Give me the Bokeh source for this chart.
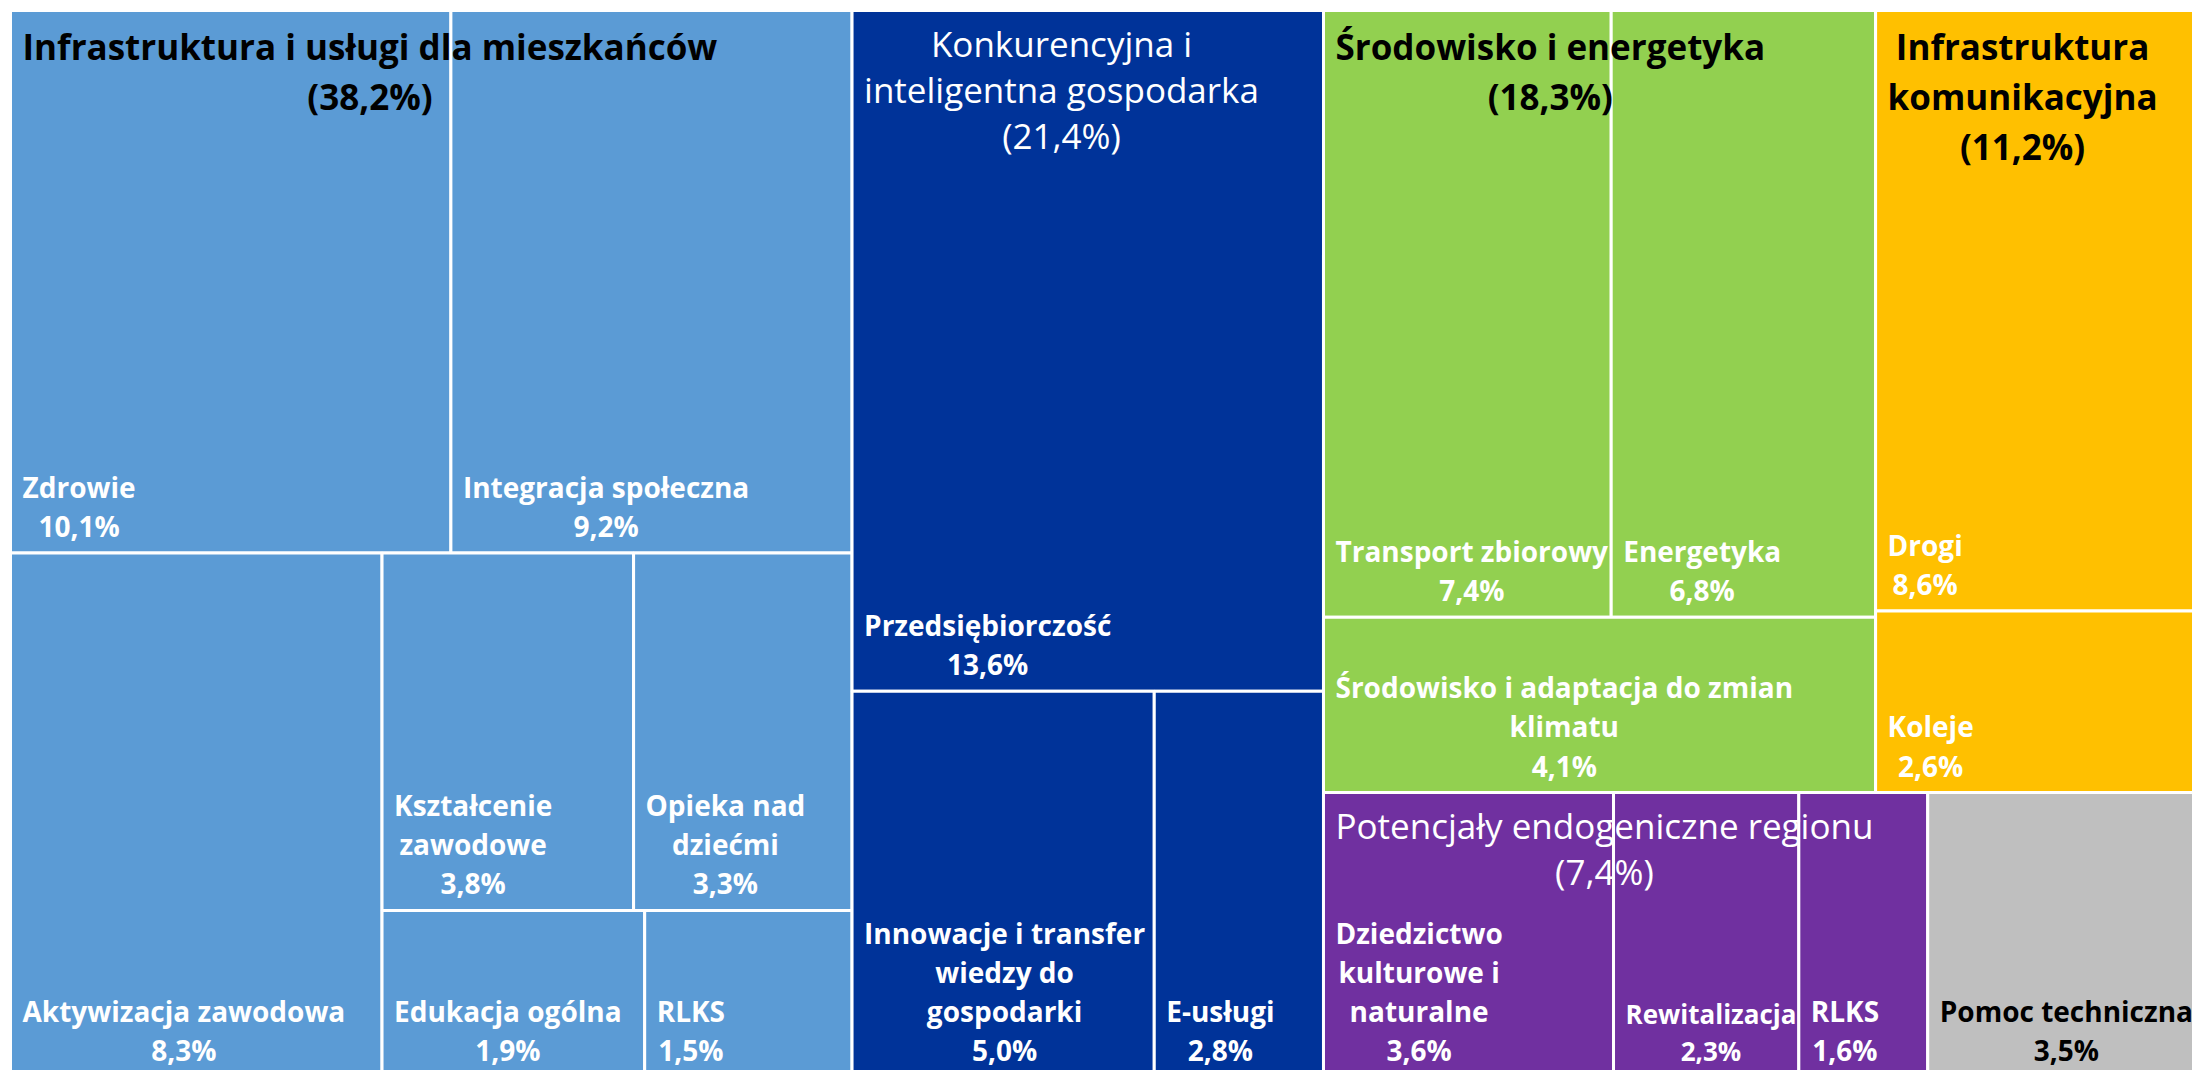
import math
from bokeh.plotting import figure
from bokeh.models import ColumnDataSource, Range1d
from bokeh.core.properties import value
from bokeh.embed import file_html
from bokeh.resources import INLINE

# ---------------- data ----------------
groups = [
    "Infrastruktura i usługi dla mieszkańców",
    "Konkurencyjna i inteligentna gospodarka",
    "Środowisko i energetyka",
    "Infrastruktura komunikacyjna",
    "Potencjały endogeniczne regionu",
    "Pomoc techniczna",
]
group_values = [38.2, 21.4, 18.3, 11.2, 7.4, 3.5]

leaf_names = [
    ["Zdrowie", "Integracja społeczna", "Aktywizacja zawodowa", "Kształcenie zawodowe",
     "Opieka nad dziećmi", "Edukacja ogólna", "RLKS"],
    ["Przedsiębiorczość", "Innowacje i transfer wiedzy do gospodarki", "E-usługi"],
    ["Transport zbiorowy", "Energetyka", "Środowisko i adaptacja do zmian klimatu"],
    ["Drogi", "Koleje"],
    ["Dziedzictwo kulturowe i naturalne", "Rewitalizacja", "RLKS"],
    ["Pomoc techniczna"],
]
leaf_values = [
    [10.1, 9.2, 8.3, 3.8, 3.3, 1.9, 1.5],
    [13.6, 5.0, 2.8],
    [7.4, 6.8, 4.1],
    [8.6, 2.6],
    [3.6, 2.3, 1.6],
    [3.5],
]

# ---------------- styles ----------------
group_colors = ["#5B9BD5", "#003399", "#92D050", "#FFC000", "#7030A0", "#BFBFBF"]
header_colors = ["black", "white", "black", "black", "white", None]
header_styles = ["bold", "normal", "bold", "bold", "normal", None]
leaf_text_colors = ["white", "white", "white", "white", "white", "black"]
leaf_font_px = {"Rewitalizacja": 26}   # label shrunk to fit its narrow cell

line_breaks = {
    "Konkurencyjna i inteligentna gospodarka": "Konkurencyjna i\ninteligentna gospodarka",
    "Infrastruktura komunikacyjna": "Infrastruktura\nkomunikacyjna",
    "Kształcenie zawodowe": "Kształcenie\nzawodowe",
    "Opieka nad dziećmi": "Opieka nad\ndziećmi",
    "Innowacje i transfer wiedzy do gospodarki": "Innowacje i transfer\nwiedzy do\ngospodarki",
    "Środowisko i adaptacja do zmian klimatu": "Środowisko i adaptacja do zmian\nklimatu",
    "Dziedzictwo kulturowe i naturalne": "Dziedzictwo\nkulturowe i\nnaturalne",
}

TM_W, TM_H = 2203.0, 1071.0   # treemap area (px)
TARGET = 0.75                 # preferred width/height of cells

FIG_W, FIG_H = 2192, 1070
OFF = 10
VIS_BOTTOM = FIG_H - OFF      # lowest visible data y


def pct(v):
    return f"{v:.1f}".replace(".", ",") + "%"


def squarify(vals, x, y, w, h, target=TARGET):
    order = sorted(range(len(vals)), key=lambda k: -vals[k])
    rects = [None] * len(vals)
    i, n = 0, len(order)
    while i < n:
        rem = sum(vals[k] for k in order[i:])
        horiz = w <= h

        def cost(row):
            s = sum(vals[k] for k in row)
            if horiz:
                rh = h * s / rem
                asp = [(w * vals[k] / s) / rh for k in row]
            else:
                cw = w * s / rem
                asp = [cw / (h * vals[k] / s) for k in row]
            return max(abs(math.log(a / target)) for a in asp)

        row = [order[i]]
        best = cost(row)
        j = i + 1
        while j < n:
            c = cost(row + [order[j]])
            if c <= best:
                row.append(order[j]); best = c; j += 1
            else:
                break
        s = sum(vals[k] for k in row)
        if horiz:
            rh = h * s / rem
            xx = x
            for k in row:
                rw = w * vals[k] / s
                rects[k] = (xx, y, rw, rh)
                xx += rw
            y += rh; h -= rh
        else:
            cw = w * s / rem
            yy = y
            for k in row:
                ch = h * vals[k] / s
                rects[k] = (x, yy, cw, ch)
                yy += ch
            x += cw; w -= cw
        i = j
    return rects


group_rects = squarify(group_values, 0.0, 0.0, TM_W, TM_H)

cells = dict(left=[], right=[], top=[], bottom=[], color=[])
leaf_lab = dict(x=[], y=[], text=[], color=[], size=[])
head_b = dict(x=[], y=[], text=[], color=[])
head_n = dict(x=[], y=[], text=[], color=[])

PAD_X = 12
PAD_B = 8
PAD_T_BOLD = 12
PAD_T_NORMAL = 9

for gi, g in enumerate(groups):
    gx, gy, gw, gh = group_rects[gi]
    sub = squarify(leaf_values[gi], gx, gy, gw, gh)
    for li, (lx, ly, lw, lh) in enumerate(sub):
        cells["left"].append(lx); cells["right"].append(lx + lw)
        cells["top"].append(ly); cells["bottom"].append(ly + lh)
        cells["color"].append(group_colors[gi])
        nm = leaf_names[gi][li]
        leaf_lab["x"].append(lx + PAD_X)
        leaf_lab["y"].append(min(ly + lh - PAD_B, VIS_BOTTOM - 1))
        leaf_lab["text"].append(line_breaks.get(nm, nm) + "\n" + pct(leaf_values[gi][li]))
        leaf_lab["color"].append(leaf_text_colors[gi])
        leaf_lab["size"].append(f"{leaf_font_px.get(nm, 28)}px")
    if header_colors[gi] is not None:
        bold = header_styles[gi] == "bold"
        d = head_b if bold else head_n
        d["x"].append(gx + PAD_X)
        d["y"].append(gy + (PAD_T_BOLD if bold else PAD_T_NORMAL))
        d["text"].append(line_breaks.get(g, g) + "\n(" + pct(group_values[gi]) + ")")
        d["color"].append(header_colors[gi])

p = figure(width=FIG_W, height=FIG_H, output_backend="svg", toolbar_location=None,
           x_range=Range1d(-OFF, FIG_W - OFF), y_range=Range1d(FIG_H - OFF, -OFF),
           min_border=0, min_border_left=0, min_border_right=0,
           min_border_top=0, min_border_bottom=0)
p.axis.visible = False
p.grid.visible = False
p.outline_line_color = None
p.background_fill_color = "white"
p.border_fill_color = "white"

p.quad(left="left", right="right", top="top", bottom="bottom", source=ColumnDataSource(cells),
       fill_color="color", line_color="white", line_width=3)

p.text(x="x", y="y", text="text", source=ColumnDataSource(leaf_lab), anchor="bottom_left",
       text_align="center", text_font=value("Open Sans"), text_font_size="size",
       text_font_style="bold", text_color="color", text_line_height=1.03)
p.text(x="x", y="y", text="text", source=ColumnDataSource(head_b), anchor="top_left",
       text_align="center", text_font=value("Open Sans"), text_font_size="35px",
       text_font_style="bold", text_color="color", text_line_height=1.07)
p.text(x="x", y="y", text="text", source=ColumnDataSource(head_n), anchor="top_left",
       text_align="center", text_font=value("Open Sans"), text_font_size="35px",
       text_font_style="normal", text_color="color", text_line_height=0.98)

open("out.html", "w").write(file_html(p, INLINE))
